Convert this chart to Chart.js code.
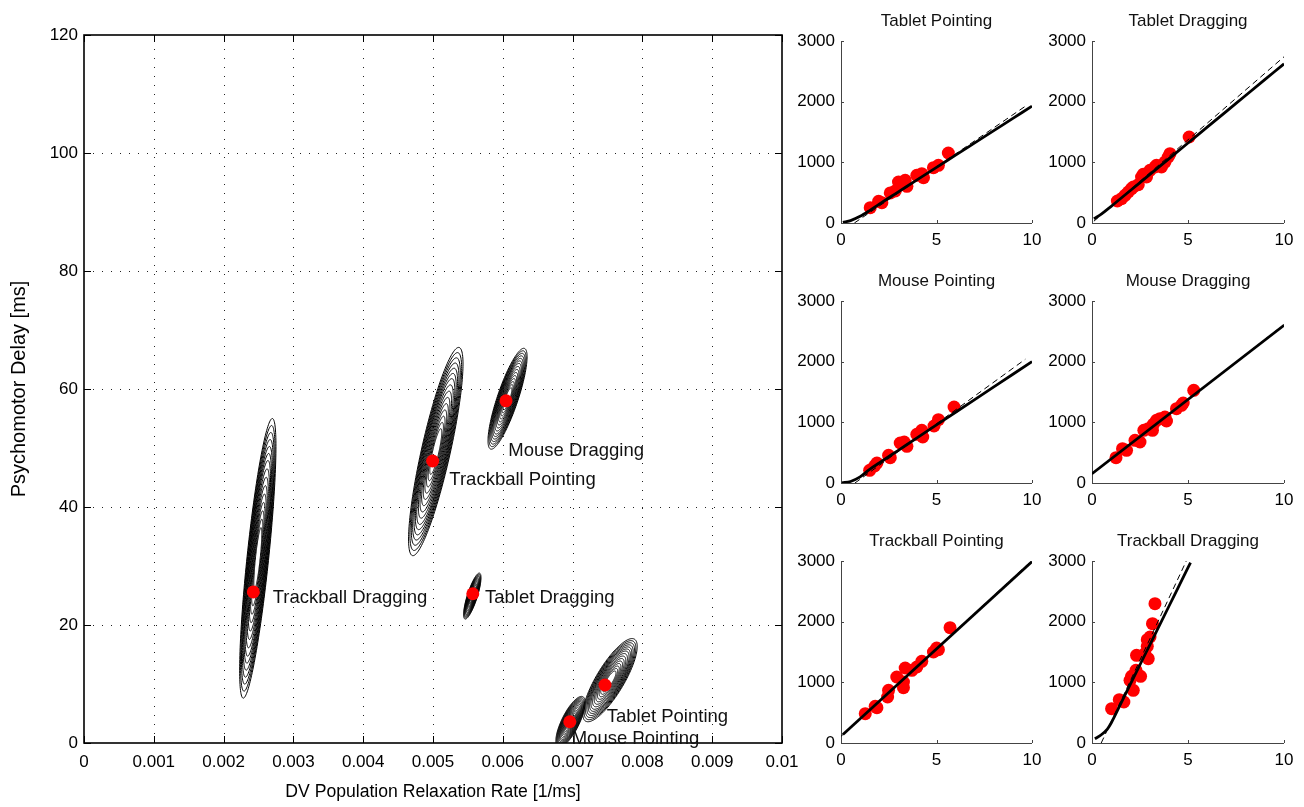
<!DOCTYPE html>
<html><head><meta charset="utf-8">
<script src="https://cdn.jsdelivr.net/npm/chart.js@4.4.1/dist/chart.umd.min.js"></script>
<style>
html,body{margin:0;padding:0;background:#fff;}
body{width:1304px;height:807px;position:relative;overflow:hidden;}
canvas{position:absolute;}
</style></head><body>
<canvas id="main" width="812" height="807" style="left:0;top:0"></canvas>
<script>
// ---------- Main chart data ----------
const deviceNames = ['Trackball Dragging','Trackball Pointing','Mouse Dragging','Tablet Dragging','Tablet Pointing','Mouse Pointing'];
const relaxRate   = [0.002426, 0.004995, 0.006046, 0.00557, 0.007464, 0.00696];
const psychoDelay = [25.6, 47.8, 58.0, 25.3, 9.83, 3.6];
// label anchors (data units)
const labelX = [0.002703, 0.005234, 0.006079, 0.005745, 0.007489, 0.006987];
const labelY = [23.7, 43.7, 48.7, 23.7, 3.6, -0.1];
// posterior contour parameters (outer contour half-extent, correlation)
const contourCenterX = [0.00249, 0.00504, 0.006068, 0.005563, 0.007536, 0.00697];
const contourCenterY = [31.3, 49.4, 58.35, 24.9, 10.65, 3.6];
const contourHalfX   = [0.00026, 0.00039, 0.00028, 0.000125, 0.00039, 0.00021];
const contourHalfY   = [23.7, 17.65, 8.55, 3.9, 7.05, 4.3];
const contourRho     = [0.8, 0.84, 0.83, 0.8, 0.81, 0.75];
const contourLevels  = [1, 0.95, 0.9, 0.85, 0.8, 0.75, 0.7, 0.64, 0.58, 0.52, 0.46, 0.4, 0.34, 0.28, 0.22];
const xTicksMain = [0,0.001,0.002,0.003,0.004,0.005,0.006,0.007,0.008,0.009,0.01];
const xTickLabelsMain = ['0','0.001','0.002','0.003','0.004','0.005','0.006','0.007','0.008','0.009','0.01'];
const yTicksMain = [0,20,40,60,80,100,120];
const yTickLabelsMain = ['0','20','40','60','80','100','120'];

// ---------- Small panels data ----------
const panelTitles = ['Tablet Pointing','Tablet Dragging','Mouse Pointing','Mouse Dragging','Trackball Pointing','Trackball Dragging'];
const smallXTicks = [0,5,10];
const smallYTicks = [0,1000,2000,3000];

const tabletPointingX = [1.53,1.97,2.14,2.58,2.84,3.01,3.36,3.45,3.97,4.23,4.32,4.84,5.10,5.62];
const tabletPointingY = [253,357,335,495,527,676,703,604,786,813,747,912,950,1154];
const tabletPointingFitX = [0.1,0.5,1,1.5,2,3,4,5,6,7,8,9,10];
const tabletPointingFitY = [10,40,110,205,310,512,714,916,1118,1320,1522,1724,1926];
const tabletPointingDashX = [0.7,9.7];
const tabletPointingDashY = [0,1935];

const tabletDraggingX = [1.32,1.54,1.72,1.89,2.06,2.15,2.41,2.58,2.67,2.84,3.02,3.28,3.36,3.62,3.80,3.97,4.06,5.06];
const tabletDraggingY = [363,401,456,511,566,593,632,758,802,758,868,923,951,923,1005,1088,1143,1418];
const tabletDraggingFitX = [0.1,0.5,1,2,3,4,5,6,7,8,9,10];
const tabletDraggingFitY = [70,150,275,536,797,1058,1319,1580,1841,2102,2363,2624];
const tabletDraggingDashX = [0.1,10];
const tabletDraggingDashY = [30,2740];

const mousePointingX = [1.50,1.88,1.76,2.49,2.58,3.10,3.31,3.45,3.97,4.23,4.28,4.87,5.10,5.92];
const mousePointingY = [209,330,280,456,418,659,676,604,802,868,758,940,1044,1253];
const mousePointingFitX = [0.05,0.5,1,1.5,2,3,4,5,6,7,8,9,10];
const mousePointingFitY = [3,25,100,225,330,539,748,957,1166,1375,1584,1793,2002];
const mousePointingDashX = [0.73,9.65];
const mousePointingDashY = [0,2040];

const mouseDraggingX = [1.25,1.59,1.80,2.24,2.50,2.70,2.93,3.19,3.15,3.36,3.54,3.80,3.88,4.40,4.66,4.75,5.30];
const mouseDraggingY = [418,566,538,703,676,868,896,967,868,1033,1060,1088,1022,1225,1280,1319,1527];
const mouseDraggingFitX = [0,10];
const mouseDraggingFitY = [154,2600];
const mouseDraggingDashX = [0,10];
const mouseDraggingDashY = [145,2612];

const trackballPointingX = [1.27,1.79,1.88,2.44,2.49,2.92,3.27,3.27,3.36,3.71,3.97,4.23,4.84,5.10,5.01,5.71];
const trackballPointingY = [484,604,582,758,868,1088,912,1005,1236,1198,1253,1346,1500,1538,1566,1901];
const trackballPointingFitX = [0.1,10];
const trackballPointingFitY = [140,2990];
const trackballPointingDashX = [0,10];
const trackballPointingDashY = [110,3010];

const trackballDraggingX = [1.02,1.42,1.66,1.98,2.15,2.06,2.29,2.32,2.53,2.76,2.93,2.88,2.88,3.02,3.15,3.28];
const trackballDraggingY = [566,714,676,1033,868,1099,1198,1445,1099,1473,1390,1593,1703,1747,1967,2297];
const trackballDraggingFitX = [0.15,0.5,0.8,1,1.5,2,3,4,5,5.13];
const trackballDraggingFitY = [70,140,230,330,650,970,1610,2250,2890,2973];
const trackballDraggingDashX = [0.48,4.91];
const trackballDraggingDashY = [0,3000];

const FONT = 'Liberation Sans, Arial, Helvetica, sans-serif';
const pts = (xs, ys) => xs.map((x,i)=>({x:x, y:ys[i]}));

// ---------- Main chart ----------
const mainDecor = {
  id:'mainDecor',
  beforeDatasetsDraw(chart){
    const {ctx, chartArea:a, scales:{x, y}} = chart;
    ctx.save();
    // dotted grid
    ctx.strokeStyle = '#222'; ctx.lineWidth = 1; ctx.setLineDash([1,8]);
    xTicksMain.slice(1,-1).forEach(v=>{
      const px = Math.round(x.getPixelForValue(v)) + 0.5;
      ctx.beginPath(); ctx.moveTo(px, a.bottom); ctx.lineTo(px, a.top); ctx.stroke();
    });
    yTicksMain.slice(1,-1).forEach(v=>{
      const py = Math.round(y.getPixelForValue(v)) + 0.5;
      ctx.beginPath(); ctx.moveTo(a.left, py); ctx.lineTo(a.right, py); ctx.stroke();
    });
    ctx.setLineDash([]);
    // contours
    ctx.beginPath(); ctx.rect(a.left, a.top, a.right-a.left, a.bottom-a.top); ctx.clip();
    ctx.strokeStyle = '#000'; ctx.lineWidth = 1;
    for (let c = 0; c < contourCenterX.length; c++){
      const r = contourRho[c], q = Math.sqrt(1 - r*r);
      contourLevels.forEach(s=>{
        ctx.beginPath();
        for (let k = 0; k <= 160; k++){
          const t = k/160*2*Math.PI;
          const dx = contourCenterX[c] + s*contourHalfX[c]*Math.cos(t);
          const dy = contourCenterY[c] + s*contourHalfY[c]*(r*Math.cos(t) + q*Math.sin(t));
          const px = x.getPixelForValue(dx), py = y.getPixelForValue(dy);
          if (k===0) ctx.moveTo(px,py); else ctx.lineTo(px,py);
        }
        ctx.closePath(); ctx.stroke();
      });
    }
    ctx.restore();
  },
  afterDatasetsDraw(chart){
    const {ctx, chartArea:a, scales:{x, y}} = chart;
    ctx.save();
    // inward ticks
    ctx.strokeStyle = '#000'; ctx.lineWidth = 1;
    xTicksMain.forEach(v=>{
      const px = Math.round(x.getPixelForValue(v)) + 0.5;
      ctx.beginPath(); ctx.moveTo(px, a.bottom); ctx.lineTo(px, a.bottom-7);
      ctx.moveTo(px, a.top); ctx.lineTo(px, a.top+7); ctx.stroke();
    });
    yTicksMain.forEach(v=>{
      const py = Math.round(y.getPixelForValue(v)) + 0.5;
      ctx.beginPath(); ctx.moveTo(a.left, py); ctx.lineTo(a.left+7, py);
      ctx.moveTo(a.right, py); ctx.lineTo(a.right-7, py); ctx.stroke();
    });
    // box
    ctx.lineWidth = 1.6;
    ctx.strokeRect(a.left, a.top, a.right-a.left, a.bottom-a.top);
    // labels
    ctx.fillStyle = '#111'; ctx.font = '18.5px ' + FONT; ctx.textAlign='left'; ctx.textBaseline='alphabetic';
    deviceNames.forEach((n,i)=>{
      ctx.fillText(n, x.getPixelForValue(labelX[i]), y.getPixelForValue(labelY[i]));
    });
    ctx.restore();
  }
};

new Chart(document.getElementById('main'), {
  type:'scatter',
  data:{datasets:[{data: pts(relaxRate, psychoDelay), pointRadius:6.5, pointHoverRadius:6.5, backgroundColor:'#ff0000', borderWidth:0}]},
  options:{
    responsive:false, animation:false, events:[],
    layout:{padding:{top:35,right:30,left:0,bottom:0}},
    plugins:{legend:{display:false}, tooltip:{enabled:false}},
    scales:{
      x:{type:'linear', min:0, max:0.01,
        grid:{display:false, drawTicks:false}, border:{display:false},
        afterBuildTicks:s=>{s.ticks = xTicksMain.map(v=>({value:v}));},
        afterFit:s=>{s.height = 64; s.paddingLeft = 0; s.paddingRight = 0;},
        ticks:{padding:9, color:'#000', autoSkip:false, maxRotation:0, font:{family:FONT, size:17},
          callback:(v,i)=>xTickLabelsMain[i]},
        title:{display:true, text:'DV Population Relaxation Rate [1/ms]', color:'#000', font:{family:FONT,size:17.6}, padding:{top:0,bottom:4}}
      },
      y:{type:'linear', min:0, max:120,
        grid:{display:false, drawTicks:false}, border:{display:false},
        afterBuildTicks:s=>{s.ticks = yTicksMain.map(v=>({value:v}));},
        afterFit:s=>{s.width = 84; s.paddingTop = 0; s.paddingBottom = 0;},
        ticks:{padding:6, color:'#000', autoSkip:false, font:{family:FONT, size:17},
          callback:(v,i)=>yTickLabelsMain[i]},
        title:{display:true, text:'Psychomotor Delay [ms]', color:'#000', font:{family:FONT,size:20}, padding:{top:7,bottom:0}}
      }
    }
  },
  plugins:[mainDecor]
});

// ---------- Small panels ----------
const panelData = [
  [tabletPointingX, tabletPointingY, tabletPointingFitX, tabletPointingFitY, tabletPointingDashX, tabletPointingDashY],
  [tabletDraggingX, tabletDraggingY, tabletDraggingFitX, tabletDraggingFitY, tabletDraggingDashX, tabletDraggingDashY],
  [mousePointingX, mousePointingY, mousePointingFitX, mousePointingFitY, mousePointingDashX, mousePointingDashY],
  [mouseDraggingX, mouseDraggingY, mouseDraggingFitX, mouseDraggingFitY, mouseDraggingDashX, mouseDraggingDashY],
  [trackballPointingX, trackballPointingY, trackballPointingFitX, trackballPointingFitY, trackballPointingDashX, trackballPointingDashY],
  [trackballDraggingX, trackballDraggingY, trackballDraggingFitX, trackballDraggingFitY, trackballDraggingDashX, trackballDraggingDashY]
];
const colLeft = [841, 1092], colWidth = [191, 192];
const rowTop = [41, 301, 561];

const smallDecor = {
  id:'smallDecor',
  beforeDatasetsDraw(chart){
    const {ctx, chartArea:a, scales:{x, y}} = chart;
    ctx.save();
    ctx.strokeStyle = '#444'; ctx.lineWidth = 1;
    ctx.beginPath();
    ctx.moveTo(a.left+0.5, a.top); ctx.lineTo(a.left+0.5, a.bottom+0.5); ctx.lineTo(a.right, a.bottom+0.5);
    smallXTicks.forEach(v=>{const px=Math.round(x.getPixelForValue(v))+0.5; ctx.moveTo(px,a.bottom); ctx.lineTo(px,a.bottom-3);});
    smallYTicks.forEach(v=>{const py=Math.round(y.getPixelForValue(v))+0.5; ctx.moveTo(a.left,py); ctx.lineTo(a.left+3,py);});
    ctx.stroke();
    ctx.restore();
  },
  afterDraw(chart){
    const {ctx, chartArea:a} = chart;
    ctx.save();
    ctx.fillStyle = '#111'; ctx.font = '17px ' + FONT; ctx.textAlign='center'; ctx.textBaseline='alphabetic';
    ctx.fillText(chart.options.plugins.panelTitle, (a.left+a.right)/2, a.top-15);
    ctx.restore();
  }
};

panelTitles.forEach((title, i)=>{
  const col = i % 2, row = Math.floor(i/2);
  const cv = document.createElement('canvas');
  cv.width = 60 + colWidth[col] + 20; cv.height = 254;
  cv.style.left = (colLeft[col]-60) + 'px'; cv.style.top = (rowTop[row]-40) + 'px';
  document.body.appendChild(cv);
  const d = panelData[i];
  new Chart(cv, {
    type:'scatter',
    data:{datasets:[
      {data: pts(d[0], d[1]), pointRadius:6.5, pointHoverRadius:6.5, backgroundColor:'#ff0000', borderWidth:0, order:3},
      {data: pts(d[4], d[5]), showLine:true, pointRadius:0, borderColor:'#000', borderWidth:1, borderDash:[6,4], order:2},
      {data: pts(d[2], d[3]), showLine:true, pointRadius:0, borderColor:'#000', borderWidth:2.8, cubicInterpolationMode:'monotone', order:1}
    ]},
    options:{
      responsive:false, animation:false, events:[],
      layout:{padding:{top:40,right:20,left:0,bottom:0}},
      plugins:{legend:{display:false}, tooltip:{enabled:false}, panelTitle:title},
      scales:{
        x:{type:'linear', min:0, max:10,
          grid:{display:false, drawTicks:false}, border:{display:false},
          afterBuildTicks:s=>{s.ticks = smallXTicks.map(v=>({value:v}));},
          afterFit:s=>{s.height = 32; s.paddingLeft = 0; s.paddingRight = 0;},
          ticks:{padding:7, color:'#000', autoSkip:false, maxRotation:0, font:{family:FONT,size:17}}
        },
        y:{type:'linear', min:0, max:3000,
          grid:{display:false, drawTicks:false}, border:{display:false},
          afterBuildTicks:s=>{s.ticks = smallYTicks.map(v=>({value:v}));},
          afterFit:s=>{s.width = 60; s.paddingTop = 0; s.paddingBottom = 0;},
          ticks:{padding:6, color:'#000', autoSkip:false, font:{family:FONT,size:17}, callback:v=>String(v)}
        }
      }
    },
    plugins:[smallDecor]
  });
});
</script>
</body></html>
